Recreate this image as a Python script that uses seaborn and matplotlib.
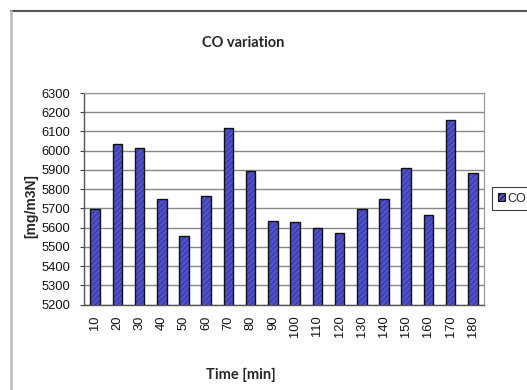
import matplotlib
matplotlib.use("Agg")
import matplotlib.pyplot as plt
import seaborn as sns
import pandas as pd
import numpy as np
from matplotlib.lines import Line2D
from matplotlib.patches import Patch

times = ["10", "20", "30", "40", "50", "60", "70", "80", "90", "100",
         "110", "120", "130", "140", "150", "160", "170", "180"]
co_values = [5698, 6036, 6014, 5749, 5555, 5764, 6116, 5893, 5633, 5627,
             5597, 5573, 5698, 5749, 5910, 5664, 6159, 5883]
y_ticks = list(range(5200, 6301, 100))

df = pd.DataFrame({"Time": times, "CO": co_values})

sns.set_theme(style="white")
plt.rcParams["font.family"] = ["Liberation Sans", "DejaVu Sans"]
plt.rcParams["hatch.linewidth"] = 0.6

fig = plt.figure(figsize=(5.27, 3.90), dpi=100)
ax = fig.add_axes([84 / 527, 1 - 304.5 / 390, 400 / 527, (304.5 - 93) / 390])

bar_face = "#5050C8"
hatch_col = "#32329C"

sns.barplot(data=df, x="Time", y="CO", order=times, ax=ax, width=0.43,
            color=bar_face, saturation=1, edgecolor=hatch_col, linewidth=0,
            hatch="//////", zorder=2)
sns.barplot(data=df, x="Time", y="CO", order=times, ax=ax, width=0.43,
            fill=False, edgecolor="#111111", linewidth=1.0, zorder=3)

ax.set_ylim(5200, 6300)
ax.set_yticks(y_ticks)
ax.set_yticklabels([str(v) for v in y_ticks], fontsize=9.3)
ax.set_xlim(-0.5, len(times) - 0.5)
ax.set_xticks(range(len(times)))
ax.set_xticklabels(times, rotation=90, fontsize=9.3)
ax.set_xticks(np.arange(-0.5, len(times), 1.0), minor=True)
ax.tick_params(axis="x", which="major", length=0, pad=8, colors="#111111")
ax.tick_params(axis="x", which="minor", length=4, width=0.8, color="#444444", direction="out")
ax.tick_params(axis="y", which="major", length=3, width=0.8, color="#444444",
               direction="out", pad=7, colors="#111111")
ax.tick_params(axis="y", which="major", left=True, color="#444444")

ax.grid(axis="y", color="#888888", linewidth=1.0, zorder=0)
ax.set_axisbelow(True)
for side in ["left", "bottom"]:
    ax.spines[side].set_color("#555555")
    ax.spines[side].set_linewidth(1.0)
for side in ["top", "right"]:
    ax.spines[side].set_color("#9a9a9a")
    ax.spines[side].set_linewidth(0.9)

ax.set_xlabel("Time [min]", fontfamily="Lato", fontweight="bold", fontsize=10.5,
              labelpad=8)
ax.xaxis.set_label_coords((241 - 84) / 400, -(368 - 304.5) / (304.5 - 93))
ax.set_ylabel("[mg/m3N]", fontweight="bold", fontsize=10)
ax.yaxis.set_label_coords(-(84 - 38) / 400, (304.5 - 206) / (304.5 - 93))

fig.text(243 / 527, 1 - 43 / 390, "CO variation", fontfamily="Lato",
         fontweight="bold", fontsize=10.5, ha="center", va="center")

handle = Patch(facecolor=bar_face, edgecolor="#111111", hatch="//////", linewidth=0.8)
leg = fig.legend([handle], ["CO"], loc="upper left",
                 bbox_to_anchor=(492 / 527, 1 - 187 / 390),
                 bbox_transform=fig.transFigure, fontsize=9, frameon=True,
                 fancybox=False, handlelength=0.6, handleheight=0.6,
                 handletextpad=0.2, borderpad=0.45, borderaxespad=0)
leg.get_frame().set_edgecolor("#111111")
leg.get_frame().set_linewidth(0.8)

fig.add_artist(Line2D([11 / 527, 1], [1 - 11 / 390, 1 - 11 / 390],
                      transform=fig.transFigure, color="#555555", linewidth=1.5))
fig.add_artist(Line2D([11 / 527, 11 / 527], [0, 1 - 11 / 390],
                      transform=fig.transFigure, color="#bbbbbb", linewidth=1.8))

fig.savefig("out.png", dpi=100)
